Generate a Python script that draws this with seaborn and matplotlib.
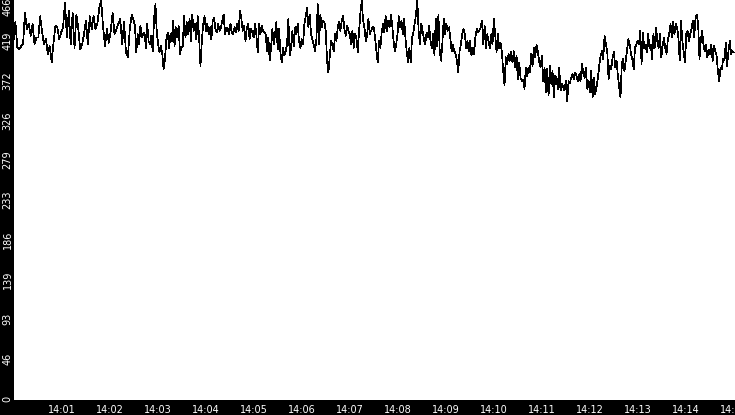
import matplotlib

matplotlib.use("Agg")

import matplotlib.dates as mdates
import matplotlib.pyplot as plt
import matplotlib.transforms as mtransforms
import pandas as pd
import seaborn as sns

# readings taken in six 2.5-minute strips, starting at 14:00:00
strip_1 = [
    419, 441, 411, 409, 413, 415, 452, 433, 439, 425, 439, 415, 423, 423, 448, 429,
    415, 421, 404, 413, 394, 417, 437, 435, 421, 429, 435, 464, 423, 454, 415, 452,
    411, 450, 433, 409, 415, 427, 443, 415, 448, 433, 448, 433, 439, 458, 466, 435,
    413, 433, 417, 431, 452, 427, 433, 439, 445, 415, 441, 406, 400, 433, 450,
]
strip_2 = [
    443, 437, 406, 427, 415, 437, 423, 427, 429, 411, 439, 419, 415, 425, 407, 445,
    462, 429, 415, 406, 413, 404, 386, 398, 421, 429, 411, 427, 419, 443, 413, 435,
    423, 437, 404, 411, 413, 448, 423, 441, 427, 445, 419, 450, 431, 439, 421, 448,
    423, 390, 419, 439, 448, 431, 439, 427, 435, 421, 443, 446, 433, 429, 439, 431,
    435, 443, 450, 427, 435, 433, 427, 439, 429, 427, 435, 429, 439, 431, 454, 445,
    431, 437, 419, 435, 439, 421, 433, 429,
]
strip_3 = [
    423, 439, 427, 406, 439, 427, 437, 431, 429, 427, 407, 423, 396, 411, 433, 415,
    427, 441, 409, 433, 406, 394, 411, 402, 407, 415, 445, 402, 411, 431, 413, 435,
    427, 439, 419, 411, 421, 415, 439, 448, 458, 435, 450, 427, 421, 415, 407, 421,
    462, 415, 450, 435, 443, 441, 431, 396, 382, 400, 419, 415, 407, 427, 419, 435,
    441, 431, 443, 448, 433, 425, 437, 431, 427, 415, 431, 411, 427, 423, 406, 431,
    452, 466, 443, 435, 419, 425, 445, 427, 431, 435,
]
strip_4 = [
    435, 423, 407, 394, 419, 411, 429, 439, 429, 448, 431, 443, 435, 450, 437, 419,
    407, 415, 427, 448, 435, 443, 427, 445, 423, 406, 394, 411, 394, 423, 429, 439,
    450, 466, 431, 415, 439, 431, 421, 415, 429, 423, 437, 419, 411, 427, 402, 445,
    413, 450, 407, 396, 417, 445, 427, 439, 431, 435, 423, 407, 415, 407, 404, 396,
    382, 407, 415, 427, 433, 427, 411, 419, 407, 419, 402, 411, 404, 423, 433, 429,
    431, 435, 443, 415, 437, 411, 427, 419, 411, 427, 415,
]
strip_5 = [
    445, 427, 406, 427, 411, 417, 407, 384, 367, 400, 392, 404, 396, 406, 394, 407,
    388, 402, 374, 394, 376, 372, 374, 363, 388, 378, 388, 382, 404, 390, 411, 400,
    415, 407, 394, 388, 402, 372, 388, 359, 386, 355, 390, 369, 384, 353, 378, 376,
    363, 388, 361, 369, 365, 361, 372, 349, 372, 370, 376, 380, 374, 382, 378, 372,
    380, 372, 392, 382, 376, 388, 363, 372, 359, 384, 353, 376, 357, 365, 376, 390,
    402, 407, 398, 425, 415, 407, 374, 390, 386, 400,
]
strip_6 = [
    406, 388, 396, 378, 365, 353, 392, 398, 384, 396, 407, 421, 415, 404, 398, 386,
    411, 415, 419, 415, 431, 392, 429, 411, 415, 406, 427, 411, 415, 398, 427, 411,
    435, 419, 411, 427, 400, 413, 423, 411, 404, 421, 427, 439, 423, 441, 427, 439,
    435, 423, 396, 443, 419, 407, 394, 427, 431, 419, 427, 433, 443, 423, 446, 450,
    439, 398, 419, 431, 415, 407, 415, 400, 409, 404, 415, 396, 413, 407, 402, 384,
    372, 388, 386, 398, 396, 417, 390, 407, 419, 404, 407, 406,
]
strips = [strip_1, strip_2, strip_3, strip_4, strip_5, strip_6]

y_ticks = [0, 46.6, 93.2, 139.8, 186.4, 233, 279.6, 326.2, 372.8, 419.4, 466]
y_tick_labels = ["0", "46", "93", "139", "186", "233", "279", "326", "372", "419", "466"]

start = pd.Timestamp("2024-01-01 14:00:00")
frames = []
for k, strip in enumerate(strips):
    s0 = start + pd.Timedelta(seconds=150 * k)
    span = 151.25 if k == len(strips) - 1 else 150
    times = pd.date_range(s0, periods=len(strip), freq=pd.Timedelta(seconds=span / len(strip)))
    frames.append(pd.DataFrame({"time": times, "value": strip}))
df = pd.concat(frames, ignore_index=True)

sns.set_style("white")
plt.rcParams["font.family"] = ["DejaVu Sans"]

fig = plt.figure(figsize=(7.35, 4.15), dpi=100, facecolor="black")
ax = fig.add_axes([14 / 735, 15 / 415, 721 / 735, 400 / 415])
ax.set_facecolor("white")

sns.lineplot(data=df, x="time", y="value", ax=ax, color="black", linewidth=0.5, antialiased=False)

# left edge sits a hair past 14:00 so that tick is not drawn
ax.set_xlim(start + pd.Timedelta(seconds=0.6), start + pd.Timedelta(seconds=901.25))
ax.set_ylim(-1.2, 467)
ax.xaxis.set_major_locator(mdates.MinuteLocator())
ax.xaxis.set_major_formatter(mdates.DateFormatter("%H:%M"))
ax.set_yticks(y_ticks)
ax.set_yticklabels(y_tick_labels, rotation=90, va="center")

ax.tick_params(axis="both", colors="white", labelcolor="white", width=1, labelsize=7)
ax.tick_params(axis="x", length=5, pad=-1.5)
ax.tick_params(axis="y", length=4, pad=-3)

# nudge the top label down a little so most of it stays on the figure
top_label = ax.get_yticklabels()[-1]
top_label.set_transform(top_label.get_transform() + mtransforms.ScaledTranslation(0, -4 / 72, fig.dpi_scale_trans))

for spine in ax.spines.values():
    spine.set_visible(False)
ax.set_xlabel("")
ax.set_ylabel("")

fig.savefig("out.png", dpi=100, facecolor="black")
